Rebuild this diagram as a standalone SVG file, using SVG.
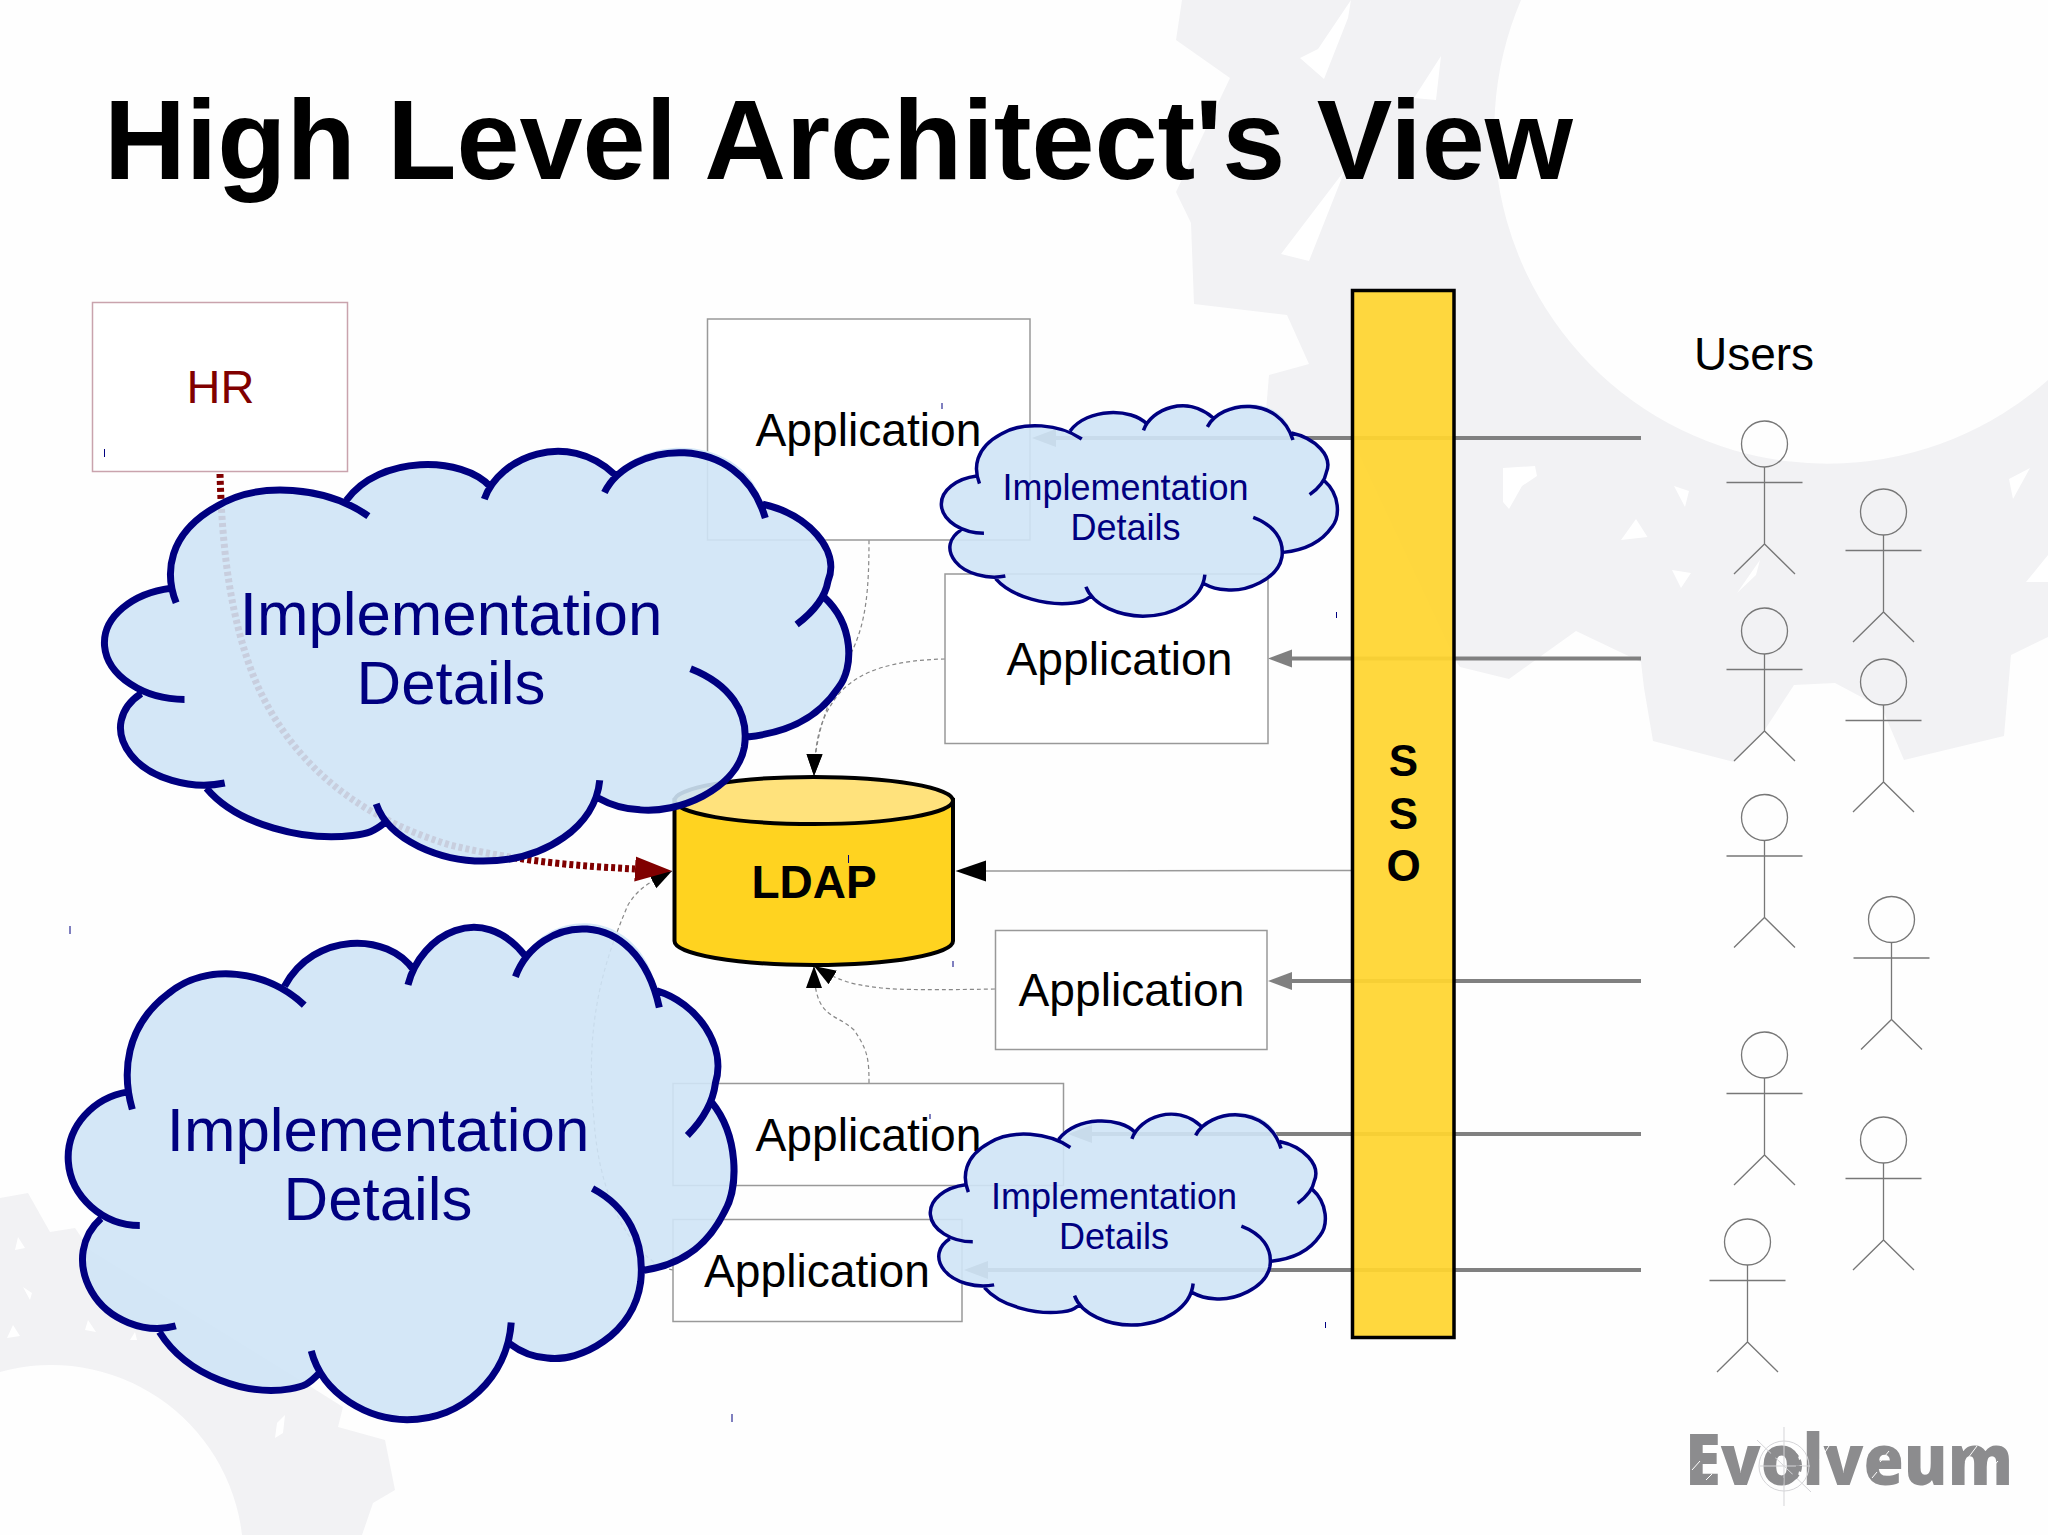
<svg xmlns="http://www.w3.org/2000/svg" width="2048" height="1535" viewBox="0 0 2048 1535">
<style>
text{font-family:"Liberation Sans",Arial,sans-serif}
.app{fill:#fff;stroke:#999;stroke-width:1.5}
.lbl{font-size:46.2px;text-anchor:middle;fill:#000}
.big{font-size:61.8px;text-anchor:middle;fill:#000080}
.small{font-size:36px;text-anchor:middle;fill:#000080}
.cfill{fill:#cfe4f6;fill-opacity:.9;stroke:none}
.cline{fill:none;stroke:#000080;vector-effect:non-scaling-stroke}
.gline{fill:none;stroke:#808080;stroke-width:4}
.dash{fill:none;stroke:#888;stroke-width:1.2;stroke-dasharray:4 3}
.fig{fill:none;stroke:#777;stroke-width:1.3}
.bg{fill:#f2f2f4}
.sp{fill:#fff}
</style>
<defs>
<marker id="ag" markerUnits="userSpaceOnUse" markerWidth="26" markerHeight="22" refX="0" refY="11" orient="auto"><path d="M24 2 L0 11 L24 20z" transform="rotate(180 12 11)" fill="#808080"/></marker>
<marker id="ak" markerUnits="userSpaceOnUse" markerWidth="32" markerHeight="24" refX="0" refY="12" orient="auto"><path d="M0 1.500 L30.500 12 L0 22.500z" fill="#000"/></marker>
<marker id="ar" markerUnits="userSpaceOnUse" markerWidth="38" markerHeight="28" refX="0" refY="14" orient="auto"><path d="M0 1.500 L37 14 L0 26.500z" fill="#800000"/></marker>
<marker id="as" markerUnits="userSpaceOnUse" markerWidth="24" markerHeight="18" refX="22" refY="9" orient="auto"><path d="M0 1 L22 9 L0 17z" fill="#000"/></marker>
<g id="cloud">
<path class="cfill" d="M212 778C200 700 225 625 300 570C380 505 480 515 548 555C610 440 770 440 822 520C860 425 980 395 1062 490C1130 385 1310 395 1345 565C1430 590 1495 680 1470 760Q1465 785 1462 800C1520 870 1520 980 1490 1030C1450 1110 1390 1145 1315 1155C1295 1290 1180 1350 1110 1340C1075 1338 1050 1325 1030 1310C1000 1400 920 1470 810 1470C730 1470 650 1420 622 1372C600 1395 590 1400 560 1405C470 1420 340 1380 280 1285C220 1290 150 1250 125 1180C105 1130 120 1080 155 1045C110 1020 85 975 85 925C80 850 140 790 212 778Z"/>
<path class="cline" d="M222 815C200 740 205 640 300 570C380 505 510 520 590 595M548 555C610 440 770 440 825 522M812 552C840 445 970 375 1062 490M1042 535C1090 405 1300 375 1350 600M1345 565C1430 590 1495 680 1470 760C1465 800 1440 840 1410 870M1462 800C1520 870 1520 980 1490 1030C1450 1110 1390 1145 1315 1155M1207 982C1280 1020 1320 1090 1310 1180C1295 1290 1180 1350 1110 1340C1075 1338 1050 1325 1030 1310M1033 1265C1025 1380 930 1470 810 1470C730 1470 630 1420 605 1325M622 1372C600 1395 590 1400 560 1405C470 1420 340 1380 280 1285M315 1272C250 1290 170 1260 135 1200C100 1140 115 1080 155 1045M238 1060C160 1060 90 1000 85 925C80 850 140 790 212 778"/>
</g>
<g id="person" class="fig">
<circle cx="0" cy="0" r="23"/><path d="M0 23V100M-38 38.500H38M-30.500 130L0 100L30.500 130"/>
</g>
</defs>
<rect width="2048" height="1535" fill="#fefefe"/>
<g id="background">
<path class="bg" d="M1182 0L1176 40L1230 78L1176 192L1191 223L1194 304L1287 315L1309 364L1269 375L1266 411L1290 440L1352 440L1455 660L1460 667L1509 679L1576 631L1641 662L1644 688L1653 741L1734 762L1764 731L1794 685L1835 683L1882 708L1904 760L2004 736L2011 655L2048 637V380A333 333 0 0 1 1521 0Z"/>
<path class="sp" d="M1503 468L1535 466L1537 476L1522 486L1509 509L1503 502ZM1674 486L1689 491L1685 507ZM1621 540L1636 519L1647.500 537ZM1672 570L1691 573L1681 588ZM2009 479L2030 468L2013 499ZM2026 582L2048 555V582ZM1737 593L1760 560L1756 575ZM1351 0L1318 49L1300 58L1324 79L1348 18ZM1441 56L1414 98L1436 100ZM1281 254L1309 261L1345 170Z"/>
<path class="bg" d="M0 1198L28 1193L50 1232L75 1228L90 1250L300 1380L343 1407L338 1427L385 1440L395 1490L373 1503L362 1535H242A192 192 0 0 0 0 1372Z"/>
<path class="sp" d="M15 1250L18 1237L25 1248ZM23 1287L32 1293L30 1300ZM85 1330L88 1320L96 1332ZM7 1338L13 1325L20 1336ZM275 1438L277 1423L285 1415L283 1433ZM130 1340L135 1332L137 1340Z"/>
</g>
<g id="connectors">
<path class="gline" marker-end="url(#ag)" d="M1641 438H1056"/>
<path class="gline" marker-end="url(#ag)" d="M1641 658.500H1292"/>
<path class="gline" marker-end="url(#ag)" d="M1641 981H1292"/>
<path class="gline" marker-end="url(#ag)" d="M1641 1134H1092"/>
<path class="gline" marker-end="url(#ag)" d="M1641 1270H988"/>
<path fill="none" stroke="#999" stroke-width="1.500" marker-end="url(#ak)" d="M1352 870.500L986 871"/>
<path class="dash" marker-end="url(#as)" d="M869 540C869 590 866 620 853.500 648C840 680 815 720 814 776"/>
<path class="dash" marker-end="url(#as)" d="M945 659C900 660 860 668 838 695C820 718 815 740 814 776"/>
<path class="dash" marker-end="url(#as)" d="M995 989C940 990 900 990 881 988C860 985 845 985 814 966"/>
<path class="dash" marker-end="url(#as)" d="M869 1083C869 1060 868 1050 854 1030C835 1012 814 1020 814 966"/>
<path class="dash" marker-end="url(#as)" d="M673 1270C640 1265 600 1210 594 1120C585 1030 600 970 628 905C640 885 655 880 672 871"/>
<path fill="none" stroke="#800000" stroke-width="7" stroke-dasharray="4 3" marker-end="url(#ar)" d="M220 474C222 540 228 610 253 675C285 755 350 815 450 845C520 862 580 866 635 869"/>
</g>
<g id="hr"><rect x="92.500" y="302.500" width="255" height="169" fill="#fff" stroke="#c9a3ad" stroke-width="1.500"/><text x="220.500" y="403" font-size="47" text-anchor="middle" fill="#800000">HR</text></g>
<g id="app1"><rect class="app" x="707.500" y="319" width="322.500" height="221"/><text class="lbl" x="868.500" y="445.500">Application</text></g>
<g id="app2"><rect class="app" x="945" y="574" width="323" height="169.500"/><text class="lbl" x="1119.500" y="675">Application</text></g>
<g id="app3"><rect class="app" x="995.500" y="930.500" width="271.500" height="119"/><text class="lbl" x="1131.500" y="1006">Application</text></g>
<g id="app4"><rect class="app" x="673" y="1083.500" width="390.500" height="102"/><text class="lbl" x="868.500" y="1150.500">Application</text></g>
<g id="app5"><rect class="app" x="673" y="1219.500" width="289" height="102"/><text class="lbl" x="817" y="1286.500">Application</text></g>
<g id="ldap">
<path d="M674.500 800V941A139.250 24 0 0 0 953 941V800Z" fill="#ffd320" stroke="#000" stroke-width="4"/>
<ellipse cx="813.750" cy="800.500" rx="139.250" ry="23.500" fill="#ffe27c" stroke="#000" stroke-width="4"/>
<text x="814" y="898" font-size="46" font-weight="700" text-anchor="middle">LDAP</text>
</g>
<g id="sso">
<rect x="1352.500" y="290.500" width="101.500" height="1047" fill="#ffd52f" fill-opacity=".93" stroke="#000" stroke-width="3.500"/>
<text font-size="44" font-weight="700" text-anchor="middle"><tspan x="1403.500" y="776">S</tspan><tspan x="1403.500" y="829">S</tspan><tspan x="1403.500" y="881">O</tspan></text>
</g>
<g id="users-label"><text x="1754" y="370" font-size="46" text-anchor="middle">Users</text></g>
<g id="user1"><use href="#person" x="1764.500" y="444"/></g>
<g id="user2"><use href="#person" x="1883.500" y="512"/></g>
<g id="user3"><use href="#person" x="1764.500" y="631"/></g>
<g id="user4"><use href="#person" x="1883.500" y="682"/></g>
<g id="user5"><use href="#person" x="1764.500" y="817.500"/></g>
<g id="user6"><use href="#person" x="1891.500" y="919.500"/></g>
<g id="user7"><use href="#person" x="1764.500" y="1055"/></g>
<g id="user8"><use href="#person" x="1883.500" y="1140"/></g>
<g id="user9"><use href="#person" x="1747.500" y="1242"/></g>
<g id="cloud1"><use href="#cloud" transform="matrix(.5223 0 0 .3943 60.200 281.500)" stroke-width="7"/><text class="big" x="451" y="635">Implementation</text><text class="big" x="451" y="704">Details</text></g>
<g id="cloud2"><use href="#cloud" transform="matrix(.4672 0 0 .4737 28.600 723.300)" stroke-width="7"/><text class="big" x="378" y="1151">Implementation</text><text class="big" x="378" y="1219.500">Details</text></g>
<g id="cloud3"><use href="#cloud" transform="matrix(.2779 0 0 .2024 917.800 318.600)" stroke-width="3.500"/><text class="small" x="1125.500" y="499.500">Implementation</text><text class="small" x="1125.500" y="540">Details</text></g>
<g id="cloud4"><use href="#cloud" transform="matrix(.2772 0 0 .2029 906.800 1026.800)" stroke-width="3.500"/><text class="small" x="1114" y="1208.500">Implementation</text><text class="small" x="1114" y="1249">Details</text></g>
<g id="title"><text x="104" y="179" font-size="113.300" font-weight="700">High Level Architect's View</text></g>
<g id="logo">
<text x="1685" y="1485" font-size="70" font-weight="800" textLength="328" lengthAdjust="spacingAndGlyphs" style="font-family:'Open Sans','Liberation Sans',sans-serif" fill="#8c8c8e">Evolveum</text>
<circle cx="1784" cy="1466" r="25" fill="none" stroke="#d5d5d8" stroke-width="1"/>
<path d="M1784 1427V1506M1757 1440L1811 1492M1760 1466H1810" fill="none" stroke="#d5d5d8" stroke-width="1"/>
<circle cx="1784" cy="1466" r="15" fill="none" stroke="#8c8c8e" stroke-width="6" stroke-dasharray="5 3"/>
<path d="M1692 1470l8-9M1706 1480l6-6M1820 1460l9-14M1880 1462l9-11M1872 1478l5-6M1965 1462l12-16M1990 1470l8-9" fill="none" stroke="#fff" stroke-width="1"/>
</g>
<path id="ticks" fill="none" stroke="#000080" stroke-width="1" d="M104.500 449v8M848.500 855v8M70 926v8M732 1414v8M942 403v6M1336.500 612v6M953 961v6M1325.500 1322v6M930 1114v5"/>
</svg>
